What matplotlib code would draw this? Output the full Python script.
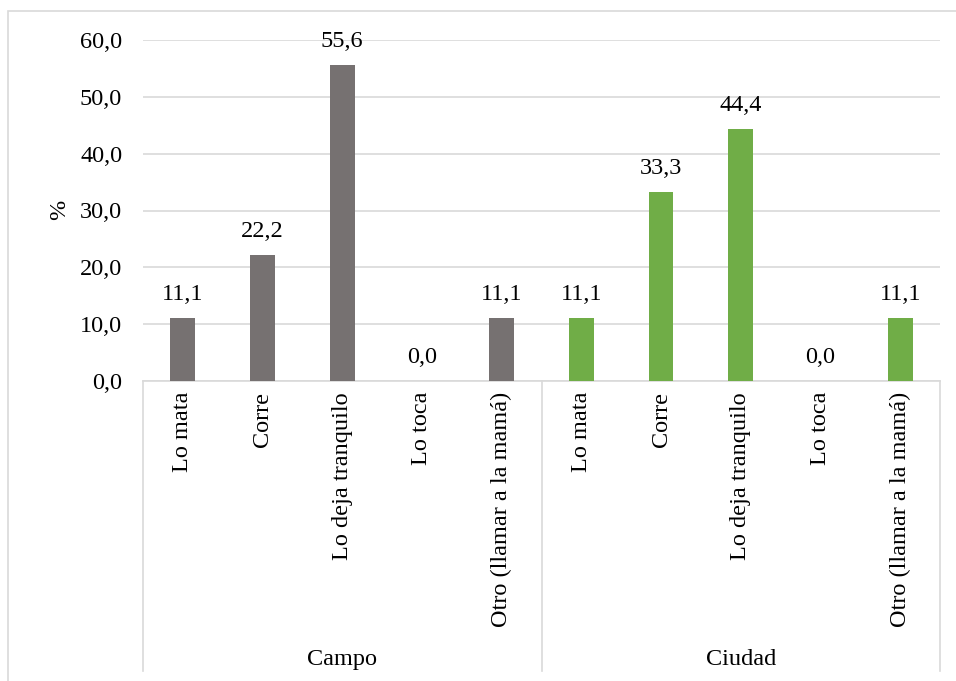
import numpy as np
import matplotlib.pyplot as plt
import matplotlib.transforms as mtransforms

plt.rcParams['font.family'] = ['Liberation Serif', 'DejaVu Serif']

categorias = ['Lo mata', 'Corre', 'Lo deja tranquilo', 'Lo toca', 'Otro (llamar a la mamá)']
grupos = ['Campo', 'Ciudad']
campo = [11.1, 22.2, 55.6, 0.0, 11.1]
ciudad = [11.1, 33.3, 44.4, 0.0, 11.1]
colores = ['#767171', '#70AD47']
yticks = [0, 10, 20, 30, 40, 50, 60]

grid_c = '#D9D9D9'
fs = 17.5

fig = plt.figure(figsize=(9.56, 6.81), dpi=100)
ax = fig.add_axes([143/956, 1-381/681, (940-143)/956, (381-40)/681])

n = len(categorias)
for g, vals in enumerate([campo, ciudad]):
    x = np.arange(n) + g*n
    ax.bar(x, vals, width=0.31, color=colores[g], zorder=3)
    for xi, v in zip(x, vals):
        ax.annotate(f'{v:.1f}'.replace('.', ','), (xi, v), xytext=(0, 13),
                    textcoords='offset points', ha='center', va='baseline', fontsize=fs)

ax.set_xlim(-0.5, 2*n - 0.5)
ax.set_ylim(0, 60)
ax.set_yticks(yticks)
ax.set_yticklabels([f'{t:.1f}'.replace('.', ',') for t in yticks], fontsize=fs)
ax.tick_params(axis='y', length=0, pad=15)
ax.set_xticks([])
ax.yaxis.grid(True, color=grid_c, linewidth=1.2, zorder=0)
for s in ['top', 'right', 'left']:
    ax.spines[s].set_visible(False)
ax.spines['bottom'].set_color(grid_c)
ax.spines['bottom'].set_linewidth(1.2)
fig.text(60/956, 1-210/681, '%', rotation=90, ha='center', va='center', fontsize=fs)

# eje de categorias en dos niveles
tr = mtransforms.blended_transform_factory(ax.transData, ax.transAxes)
ybot = -290/341
for xs in [-0.5, n - 0.5, 2*n - 0.5]:
    ax.plot([xs, xs], [0, ybot], transform=tr, color=grid_c, lw=1.2, clip_on=False)
for g in range(2):
    for i, c in enumerate(categorias):
        ax.text(g*n + i, -0.032, c, transform=tr, rotation=90, ha='center', va='top', fontsize=fs)
    ax.text(g*n + (n-1)/2, -0.818, grupos[g], transform=tr, ha='center', va='center', fontsize=fs)

# borde exterior
fig.patches.append(plt.Rectangle((8/956, -0.1), 1.2, 1.1 - 11/681, transform=fig.transFigure,
                                 fill=False, edgecolor=grid_c, lw=1.2))

fig.savefig('out.png', dpi=100)
